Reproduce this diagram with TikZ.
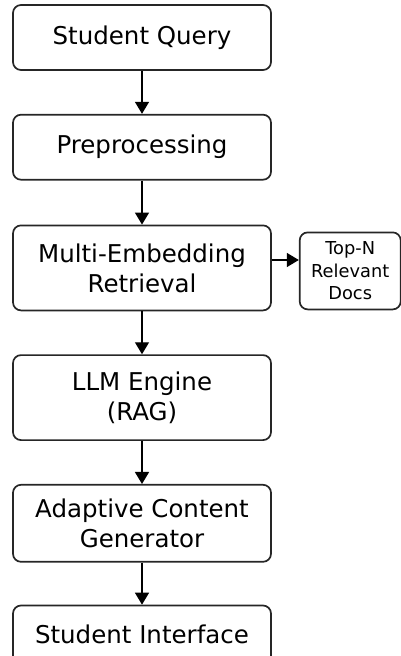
\documentclass[tikz,border=0pt]{standalone}
\usepackage{fontspec}
\setmainfont{DejaVu Sans}
\usetikzlibrary{positioning, arrows.meta}

\begin{document}
\begin{tikzpicture}[
  stage/.style={draw=black!85, line width=1.7pt, rounded corners=8pt, align=center,
    minimum width=258pt, minimum height=65pt, inner sep=4pt,
    font=\fontsize{24.5}{30}\selectfont},
  docsbox/.style={draw=black!85, line width=1.7pt, rounded corners=8pt, align=center,
    minimum width=101pt, minimum height=77pt, inner sep=3pt,
    font=\fontsize{17.8}{22.5}\selectfont},
  flow/.style={-{Triangle[length=12pt,width=14pt]}, line width=1.4pt, draw=black}
]
\useasboundingbox (0,0) rectangle (400pt,-656pt);

\node[stage] (query) at (142pt,-37.5pt) {Student Query};
\node[stage, below=43pt of query] (prep) {Preprocessing};
\node[stage, below=44pt of prep, minimum height=85pt] (ret) {Multi-Embedding\\Retrieval};
\node[docsbox, right=27pt of ret, yshift=-3pt] (docs) {Top-N\\Relevant\\Docs};
\node[stage, below=43pt of ret, minimum height=85pt] (llm) {LLM Engine\\(RAG)};
\node[stage, below=43pt of llm, minimum height=77pt] (gen) {Adaptive Content\\Generator};
\node[stage, below=42pt of gen, minimum height=58pt] (ui) {Student Interface};

\draw[flow] (query) -- (prep);
\draw[flow] (prep) -- (ret);
\draw[flow] (ret.east |- 0,-260pt) -- (docs.west |- 0,-260pt);
\draw[flow] (ret) -- (llm);
\draw[flow] (llm) -- (gen);
\draw[flow] (gen) -- (ui);

\end{tikzpicture}
\end{document}
